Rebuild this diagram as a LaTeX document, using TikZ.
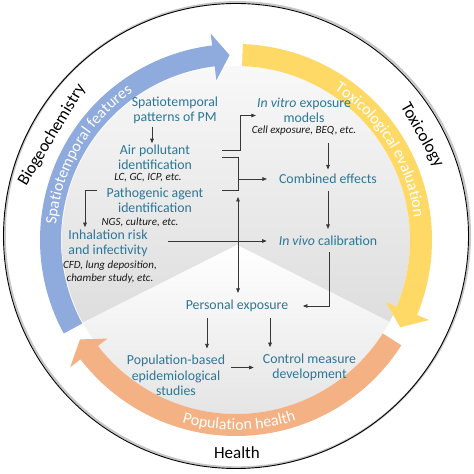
\documentclass[tikz,border=0pt]{standalone}
\usepackage{fontspec}
\setmainfont{Carlito}
\usetikzlibrary{arrows.meta,decorations.text,calc}
\definecolor{tblue}{RGB}{44,118,150}
\definecolor{arcblue}{HTML}{8FAADC}
\definecolor{arcyellow}{HTML}{FFD966}
\definecolor{arcorange}{HTML}{F4B183}
\definecolor{linegray}{RGB}{55,55,55}
\newcommand\arcfont{\color{white}\fontsize{16}{16}\selectfont}
\begin{document}
\begin{tikzpicture}[x=1pt,y=1pt,
  box/.style={text=tblue, font=\fontsize{13.8}{15.5}\selectfont, align=center, inner sep=1pt},
  note/.style={text=black!90, font=\fontsize{11}{13}\selectfont\itshape, align=center, inner sep=1pt},
  outer/.style={font=\fontsize{17}{17}\selectfont, inner sep=0pt},
  conn/.style={draw=linegray, line width=0.7pt},
  arr/.style={conn, -{Triangle[length=4.5pt,width=3.6pt]}},
  arrs/.style={conn, {Triangle[length=4.5pt,width=3.6pt]}-{Triangle[length=4.5pt,width=3.6pt]}},
]
\useasboundingbox (0,0) rectangle (474,474);
\fill[white] (0,0) rectangle (474,474);
% outer circle with faint shadow
\draw[black!22, line width=2.2pt] (237.3,239.2) circle (232.6);
\draw[black, line width=0.9pt] (236,238) circle (232.5);
% shaded wedges
\begin{scope}
  \clip (236,234) circle (174);
  \shade[top color=white, bottom color=black!14]
    (237,229) -- (40.5,130) -- (40.5,474) -- (433.5,474) -- (433.5,130) -- cycle;
  \shade[top color=white, bottom color=black!14]
    (237,229) -- (40.5,130) -- (40.5,0) -- (433.5,0) -- (433.5,130) -- cycle;
\end{scope}
% circular arrows
\begin{scope}[shift={(236,234)}]
  \fill[arcblue] (208.5:196) arc[start angle=208.5, end angle=97, radius=196]
    -- (97:208) -- (92:185) -- (97:161) -- (97:175)
    arc[start angle=97, end angle=208.5, radius=175] -- cycle;
  \fill[arcyellow] (88:196) arc[start angle=88, end angle=-22.5, radius=196]
    -- (-22.5:209) -- (-28:186) -- (-22.5:162) -- (-22.5:174)
    arc[start angle=-22.5, end angle=88, radius=174] -- cycle;
  \fill[arcorange] (-32.5:196) arc[start angle=-32.5, end angle=-142.5, radius=196]
    -- (-142.5:209) -- (-147.5:185) -- (-142.5:162) -- (-142.5:174)
    arc[start angle=-142.5, end angle=-32.5, radius=174] -- cycle;
  \path[decorate, decoration={text along path, text align=center,
      text={|\arcfont|Spatiotemporal features}}]
    (205:180.5) arc[start angle=205, end angle=95, radius=180.5];
  \path[decorate, decoration={text along path, text align=center,
      text={|\arcfont|Toxicological evaluation}}]
    (87:179.5) arc[start angle=87, end angle=-23, radius=179.5];
  \path[decorate, decoration={text along path, text align=center,
      text={|\arcfont|Population health}}]
    (-134:190) arc[start angle=-134, end angle=-44, radius=190];
\end{scope}
% outer labels
\node[outer, rotate=59] (bio) at (52,339) {Biogeochemistry};
\node[outer, rotate=-60.5] (tox) at (422,339) {Toxicology};
\node[outer] (hea) at (237,21) {Health};
% nodes
\node[box] (sp) at (175,363.5) {Spatiotemporal\\patterns of PM};
\node[box] (air) at (155,316.5) {Air pollutant\\identification};
\node[note] (airnote) at (148,296) {LC, GC, ICP, etc.};
\node[box] (pat) at (155,273.5) {Pathogenic agent\\identification};
\node[note] (patnote) at (140,252) {NGS, culture, etc.};
\node[box] (inh) at (108,230.5) {Inhalation risk\\and infectivity};
\node[note] (inhnote) at (110,201.5) {CFD, lung deposition,\\chamber study, etc.};
\node[box] (vitro) at (304,363.5) {\textit{In vitro} exposure\\models};
\node[note] (vitronote) at (304,343) {Cell exposure, BEQ, etc.};
\node[box] (comb) at (328,295) {Combined effects};
\node[box] (vivo) at (328,233) {\textit{In vivo} calibration};
\node[box] (pers) at (237,168) {Personal exposure};
\node[box] (pop) at (176,98.5) {Population-based\\epidemiological\\studies};
\node[box] (ctrl) at (309.5,106.5) {Control measure\\development};
% helper coordinates
\coordinate (c152) at (152,0);
\coordinate (a1) at (222,324);
\coordinate (j1) at (240,0);
\coordinate (b1) at (222,317);
\coordinate (b2) at (222,284);
\coordinate (j2) at (238,0);
\coordinate (v1) at (238,277);
\coordinate (p1) at (97,284);
\coordinate (k1) at (85,0);
\coordinate (x207) at (207,0);
\coordinate (x270) at (270,0);
% connectors
\draw[arr, shorten <=1.5pt, shorten >=0.5pt] (sp.south -| c152) -- (air.north -| c152);
\draw[arr] (a1) -- (a1 -| j1) |- ([yshift=-5pt]vitro.west);
\draw[conn] (b1) -| (j2 |- b2) -- (b2);
\draw[arr, shorten >=11pt] (j2 |- comb.west) -- (comb.west);
\draw[arrs, shorten >=6pt] (v1) -- (v1 |- pers.north);
\draw[arr, shorten <=19pt, shorten >=11pt] (inh.east |- vivo.west) -- (vivo.west);
\draw[arr, shorten >=1.5pt] (p1) -| (k1 |- inh.north);
\draw[arr, shorten <=6pt, shorten >=3.5pt] (comb.north |- vitronote.south) -- (comb.north);
\draw[arr, shorten <=6pt, shorten >=6pt] (comb.south) -- (vivo.north);
\draw[arr, shorten <=5pt] ([xshift=1pt]vivo.south) |- ([xshift=13.5pt]pers.east);
\draw[arr, shorten <=5pt, shorten >=5.5pt] (x207 |- pers.south) -- (x207 |- pop.north);
\draw[arr, shorten <=5pt, shorten >=5.5pt] (x270 |- pers.south) -- (x270 |- ctrl.north);
\draw[arr, shorten <=5pt, shorten >=8pt] (pop.east |- ctrl.west) -- (ctrl.west);
\end{tikzpicture}
\end{document}
